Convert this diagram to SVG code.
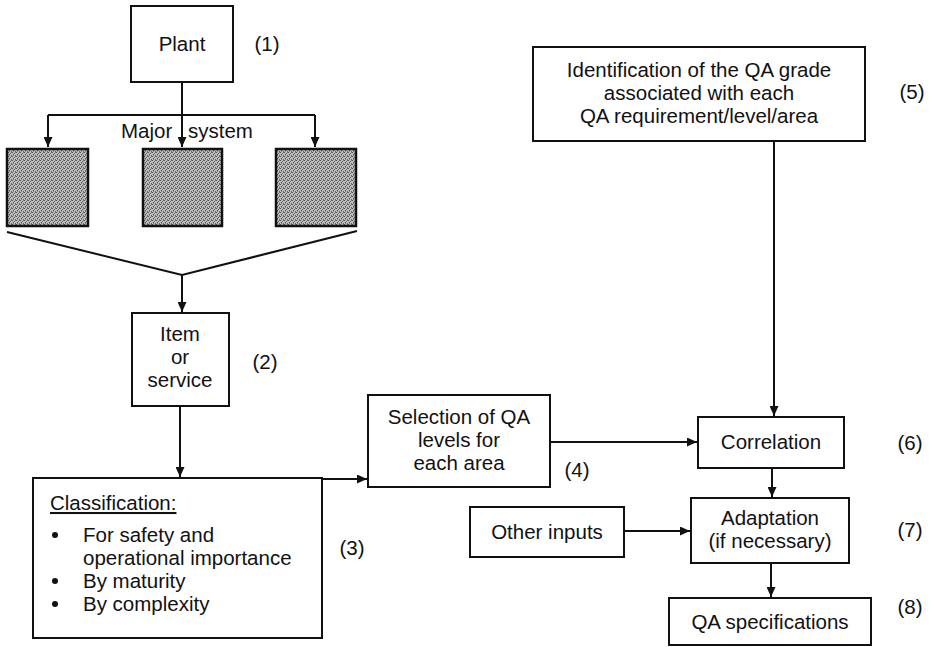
<svg xmlns="http://www.w3.org/2000/svg" width="934" height="647" viewBox="0 0 934 647">
<style>
.box{fill:#fff;stroke:#111;stroke-width:2}
.gray{fill:url(#stip);stroke:#111;stroke-width:2.5}
.t{font-family:"Liberation Sans",Arial,sans-serif;font-size:20.5px;fill:#111}
.c{text-anchor:middle}
.ln{fill:none;stroke:#111;stroke-width:2}
.arr{fill:none;stroke:#111;stroke-width:2;marker-end:url(#ah)}
</style>
<defs>
<pattern id="stip" width="4" height="4" patternUnits="userSpaceOnUse">
<rect width="4" height="4" fill="#bdbdbd"/>
<rect x="0" y="0" width="1" height="1" fill="#555"/>
<rect x="2" y="1" width="1" height="1" fill="#666"/>
<rect x="1" y="2" width="1" height="1" fill="#555"/>
<rect x="3" y="3" width="1" height="1" fill="#666"/>
<rect x="3" y="0" width="1" height="1" fill="#777"/>
<rect x="1" y="3" width="1" height="1" fill="#888"/>
</pattern>
<marker id="ah" markerUnits="userSpaceOnUse" markerWidth="10" markerHeight="9" refX="10" refY="4.5" orient="auto">
<path d="M0,0 L10,4.5 L0,9 z" fill="#111"/>
</marker>
</defs>
<rect width="934" height="647" fill="#fff"/>

<g id="connectors">
<line class="ln" x1="182" y1="82" x2="182" y2="115"/>
<line class="ln" x1="48" y1="115" x2="315" y2="115"/>
<line class="arr" x1="182" y1="115" x2="182" y2="147"/>
<line class="arr" x1="48" y1="115" x2="48" y2="147"/>
<line class="arr" x1="315" y1="115" x2="315" y2="147"/>
<polyline class="ln" points="7,232 182,275 357,231"/>
<line class="arr" x1="182" y1="275" x2="182" y2="312"/>
<line class="arr" x1="180" y1="406" x2="180" y2="477"/>
<line class="arr" x1="322" y1="479" x2="367" y2="479"/>
<line class="arr" x1="550" y1="442" x2="697" y2="442"/>
<line class="arr" x1="774" y1="141" x2="774" y2="416"/>
<line class="arr" x1="772" y1="468" x2="772" y2="497"/>
<line class="arr" x1="624" y1="531" x2="690" y2="531"/>
<line class="arr" x1="771" y1="563" x2="771" y2="597"/>
</g>

<g id="plant">
<rect class="box" x="131" y="6" width="102" height="76"/>
<text class="t c" x="182" y="51">Plant</text>
<text class="t c" x="267" y="51">(1)</text>
</g>

<g id="major-system">
<text class="t" x="121" y="138">Major <tspan x="188">system</tspan></text>
<rect class="gray" x="7" y="149" width="81" height="77"/>
<rect class="gray" x="143" y="149" width="79" height="77"/>
<rect class="gray" x="276" y="149" width="80" height="77"/>
</g>

<g id="item">
<rect class="box" x="132" y="313" width="97" height="93"/>
<text class="t c" x="180" y="341">Item</text>
<text class="t c" x="180" y="364">or</text>
<text class="t c" x="180" y="387">service</text>
<text class="t c" x="265" y="369">(2)</text>
</g>

<g id="classification">
<rect class="box" x="33" y="478" width="289" height="160"/>
<text class="t" x="50" y="510" text-decoration="underline">Classification:</text>
<circle cx="55" cy="535" r="3" fill="#111"/>
<circle cx="55" cy="581" r="3" fill="#111"/>
<circle cx="55" cy="604" r="3" fill="#111"/>
<text class="t" x="83" y="542">For safety and</text>
<text class="t" x="83" y="565">operational importance</text>
<text class="t" x="83" y="588">By maturity</text>
<text class="t" x="83" y="611">By complexity</text>
<text class="t c" x="352" y="555">(3)</text>
</g>

<g id="selection">
<rect class="box" x="368" y="395" width="182" height="92"/>
<text class="t c" x="459" y="424">Selection of QA</text>
<text class="t c" x="459" y="447">levels for</text>
<text class="t c" x="459" y="470">each area</text>
<text class="t c" x="577" y="477">(4)</text>
</g>

<g id="identification">
<rect class="box" x="533" y="47" width="332" height="94"/>
<text class="t c" x="699" y="77">Identification of the QA grade</text>
<text class="t c" x="699" y="100">associated with each</text>
<text class="t c" x="699" y="123">QA requirement/level/area</text>
<text class="t c" x="912" y="99">(5)</text>
</g>

<g id="correlation">
<rect class="box" x="698" y="417" width="146" height="51"/>
<text class="t c" x="771" y="449">Correlation</text>
<text class="t c" x="910" y="450">(6)</text>
</g>

<g id="other-inputs">
<rect class="box" x="470" y="507" width="154" height="50"/>
<text class="t c" x="547" y="539">Other inputs</text>
</g>

<g id="adaptation">
<rect class="box" x="691" y="498" width="158" height="65"/>
<text class="t c" x="770" y="525">Adaptation</text>
<text class="t c" x="770" y="548">(if necessary)</text>
<text class="t c" x="910" y="537">(7)</text>
</g>

<g id="qa-spec">
<rect class="box" x="669" y="598" width="202" height="47"/>
<text class="t c" x="770" y="629">QA specifications</text>
<text class="t c" x="910" y="614">(8)</text>
</g>
</svg>
